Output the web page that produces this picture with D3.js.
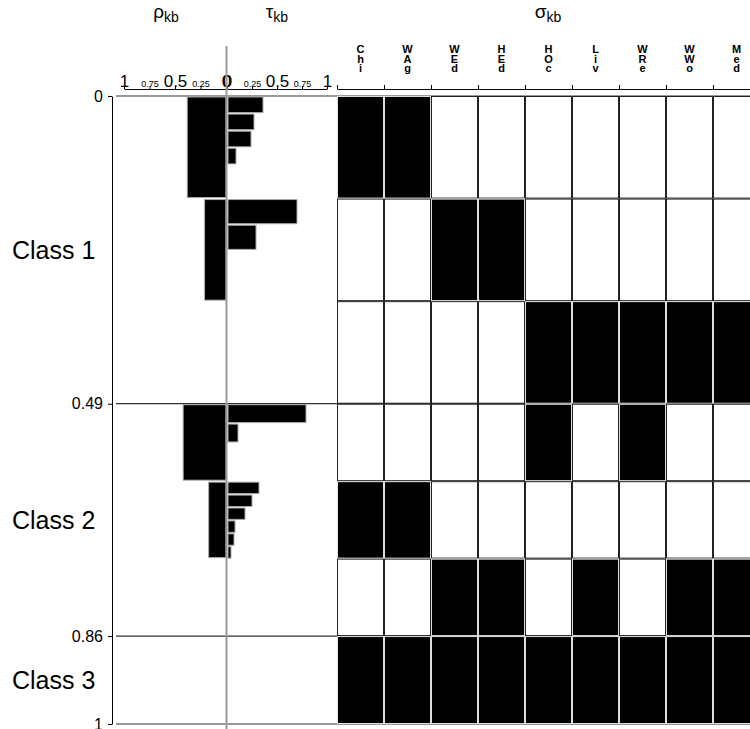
<!DOCTYPE html>
<html>
<head>
<meta charset="utf-8">
<script src="https://cdn.jsdelivr.net/npm/d3@7"></script>
<style>
  body { margin: 0; background: #fff; }
  svg { display: block; font-family: "Liberation Sans", Arial, sans-serif; }
</style>
</head>
<body>
<div id="chart"></div>
<script>
// class sizes and labels
const classNames = ["Class 1", "Class 2", "Class 3"];
const classProps = [0.49, 0.37, 0.14];
const classTickValues = [0, 0.49, 0.86, 1];
const classTickLabels = ["0", "0.49", "0.86", "1"];

// column (variable) names of the sigma grid
const columns = ["Chi", "WAg", "WEd", "HEd", "HOc", "Liv", "WRe", "WWo", "Med"];

// row blocks: which class each belongs to
const blockClass = [0, 0, 0, 1, 1, 1, 2];
// rho_kb per block
const rho = [0.38, 0.21, 0, 0.42, 0.17, 0, 0];
// tau_kb sub-bars per block
const tau = [
  [0.36, 0.27, 0.24, 0.09, 0, 0],
  [0.70, 0.29, 0, 0],
  [],
  [0.79, 0.11, 0, 0],
  [0.32, 0.25, 0.18, 0.08, 0.07, 0.04],
  [],
  []
];
// sigma_kb: 1 = black cell
const sigma = [
  [1, 1, 0, 0, 0, 0, 0, 0, 0],
  [0, 0, 1, 1, 0, 0, 0, 0, 0],
  [0, 0, 0, 0, 1, 1, 1, 1, 1],
  [0, 0, 0, 0, 1, 0, 1, 0, 0],
  [1, 1, 0, 0, 0, 0, 0, 0, 0],
  [0, 0, 1, 1, 0, 1, 0, 1, 1],
  [1, 1, 1, 1, 1, 1, 1, 1, 1]
];
const axisTicks = [1, 0.75, 0.5, 0.25, 0];

const width = 750, height = 729;
const svg = d3.select("#chart").append("svg")
  .attr("width", width).attr("height", height);

const y = d3.scaleLinear().domain([0, 1]).range([96, 724]);
const xRho = d3.scaleLinear().domain([1, 0]).range([124, 226]);
const xTau = d3.scaleLinear().domain([0, 1]).range([227, 327]);
const xCol = d3.scaleLinear().domain([0, columns.length]).range([337, 337 + 47 * columns.length]);

// block extents
const classStart = [0];
classProps.forEach((p, i) => classStart.push(classStart[i] + p));
const blocks = blockClass.map((k, i) => {
  const inClass = blockClass.filter(c => c === k).length;
  const idx = blockClass.slice(0, i).filter(c => c === k).length;
  const step = classProps[k] / inClass;
  const v0 = classStart[k] + idx * step;
  return { k, i, y0: y(v0), y1: y(v0 + step) };
});

// class boundary lines
svg.selectAll("line.bound")
  .data(classTickValues)
  .enter().append("line")
  .attr("x1", 116).attr("x2", width)
  .attr("y1", d => y(d)).attr("y2", d => y(d))
  .attr("stroke", "#333").attr("stroke-width", 1.2);

// left axis
const yAxis = svg.append("g")
  .attr("transform", "translate(112,0)")
  .call(d3.axisLeft(y).tickValues(classTickValues)
    .tickFormat((d, i) => classTickLabels[i]).tickSize(4).tickSizeOuter(0));
yAxis.selectAll("text").style("font-size", "16px").attr("x", -9).attr("fill", "#000");
yAxis.select(".domain").attr("stroke", "#000");

// class labels
svg.selectAll("text.cls")
  .data(classNames)
  .enter().append("text")
  .attr("x", 12)
  .attr("y", (d, i) => y(classStart[i] + classProps[i] / 2))
  .attr("dy", "0.35em")
  .style("font-size", "25px")
  .text(d => d);

// rho / tau axes
function styleAxis(g) {
  g.selectAll("text")
    .style("font-size", d => (d === 0.25 || d === 0.75) ? "9px" : "17px")
    .attr("y", -2);
  g.select(".domain").attr("stroke", "#000");
}
svg.append("g").attr("transform", "translate(0,89)")
  .call(d3.axisTop(xRho).tickValues(axisTicks).tickSize(3).tickSizeOuter(0).tickFormat(d3.format("")))
  .call(styleAxis);
svg.append("g").attr("transform", "translate(0,89)")
  .call(d3.axisTop(xTau).tickValues(axisTicks).tickSize(3).tickSizeOuter(0).tickFormat(d3.format("")))
  .call(styleAxis);

// rho bars
svg.selectAll("rect.rho")
  .data(blocks.filter(b => rho[b.i] > 0))
  .enter().append("rect")
  .attr("x", b => xRho(rho[b.i]))
  .attr("width", b => xRho(0) - xRho(rho[b.i]))
  .attr("y", b => b.y0 + 1)
  .attr("height", b => b.y1 - b.y0 - 2)
  .attr("fill", "#000").attr("stroke", "#aaa").attr("stroke-width", 1);

// tau bars
const tauBars = [];
blocks.forEach(b => {
  const n = tau[b.i].length;
  tau[b.i].forEach((v, j) => {
    if (v > 0) {
      const h = (b.y1 - b.y0) / n;
      tauBars.push({ v, y0: b.y0 + j * h, h });
    }
  });
});
svg.selectAll("rect.tau")
  .data(tauBars)
  .enter().append("rect")
  .attr("x", xTau(0) + 1)
  .attr("width", d => xTau(d.v) - xTau(0) - 1)
  .attr("y", d => d.y0 + 1)
  .attr("height", d => d.h - 1.5)
  .attr("fill", "#000").attr("stroke", "#aaa").attr("stroke-width", 1);

// centre line
svg.append("line")
  .attr("x1", 226.5).attr("x2", 226.5).attr("y1", 46).attr("y2", height)
  .attr("stroke", "#999").attr("stroke-width", 2);

// sigma grid
blocks.forEach(b => {
  svg.append("g").selectAll("rect")
    .data(sigma[b.i])
    .enter().append("rect")
    .attr("x", (d, c) => xCol(c) + 0.5)
    .attr("width", xCol(1) - xCol(0) - 1)
    .attr("y", b.y0 + 0.5)
    .attr("height", b.y1 - b.y0 - 1)
    .attr("fill", d => d ? "#000" : "#fff")
    .attr("stroke", d => d ? "#ddd" : "#222")
    .attr("stroke-width", 1);
});

// column axis
svg.append("g").attr("transform", "translate(0,89)")
  .call(d3.axisTop(xCol).tickValues(d3.range(columns.length)).tickSize(4).tickSizeOuter(0).tickFormat(""))
  .select(".domain").attr("stroke", "#000");

const colLab = svg.selectAll("text.col")
  .data(columns)
  .enter().append("text")
  .attr("text-anchor", "middle")
  .style("font-size", "11px").style("font-weight", "bold");
colLab.selectAll("tspan")
  .data((d, c) => d.split("").map(ch => ({ ch, c })))
  .enter().append("tspan")
  .attr("x", d => (xCol(d.c) + xCol(d.c + 1)) / 2)
  .attr("y", (d, j) => 53 + j * 9.5)
  .text(d => d.ch);

// titles
const titles = [
  { sym: "\u03c1", x: 166 },
  { sym: "\u03c4", x: 277 },
  { sym: "\u03c3", x: 548 }
];
const tt = svg.selectAll("text.title")
  .data(titles)
  .enter().append("text")
  .attr("x", d => d.x).attr("y", 18)
  .attr("text-anchor", "middle")
  .style("font-size", "19px");
tt.append("tspan").text(d => d.sym);
tt.append("tspan").attr("dy", 4).style("font-size", "14px").text("kb");
</script>
</body>
</html>
